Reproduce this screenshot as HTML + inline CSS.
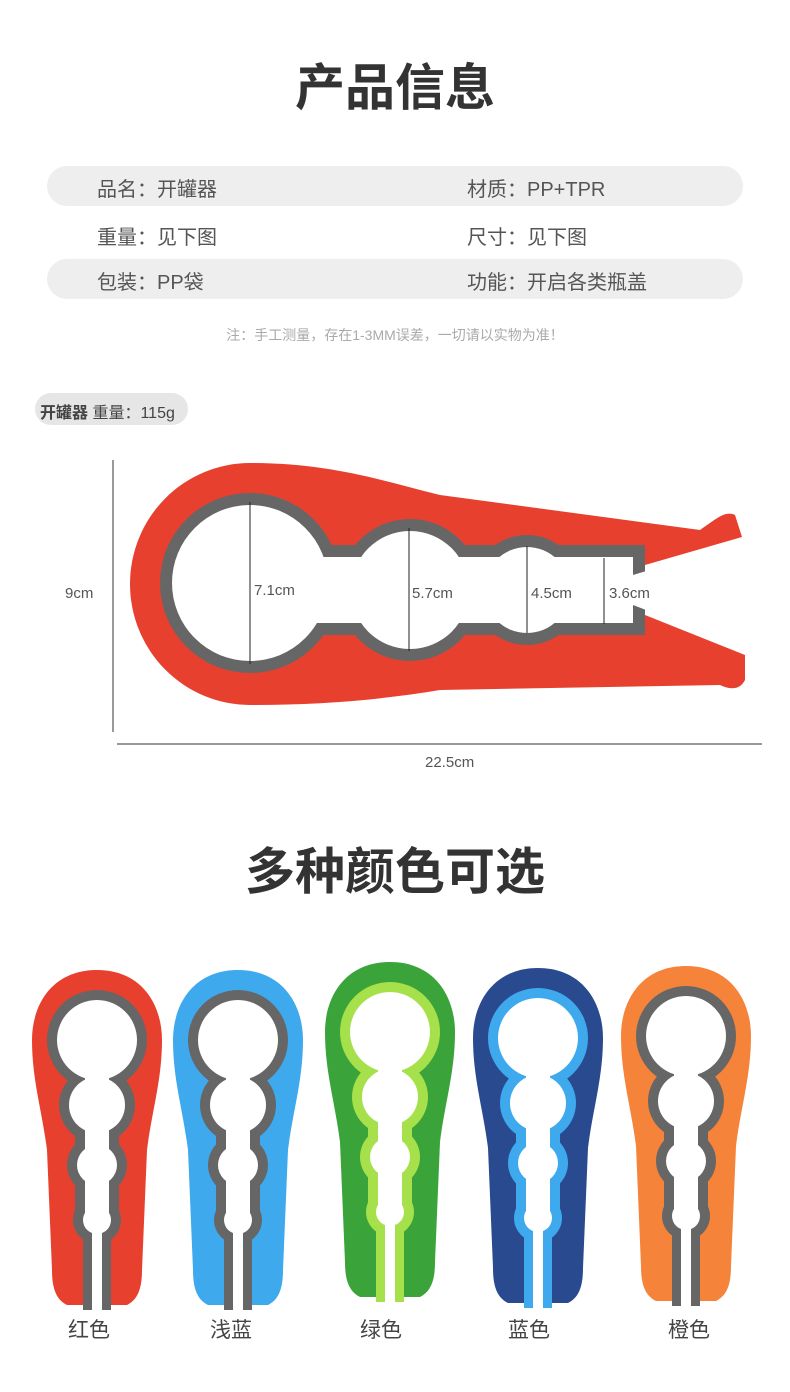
<!DOCTYPE html>
<html><head><meta charset="utf-8"><style>
body{margin:0;width:790px;height:1392px;background:#fff;position:relative;overflow:hidden;font-family:"Liberation Sans","Noto Sans CJK SC",sans-serif;color:#555}
.a{position:absolute;white-space:nowrap}
.pill{position:absolute;left:47px;width:696px;height:40px;background:#eeeeee;border-radius:20px}
.t{font-size:20px;color:#555}
.h{font-size:50px;font-weight:bold;color:#333;left:0;width:790px;text-align:center}
.c{font-size:21px;color:#444}
</style></head><body>
<div class="a h" style="top:48px">产品信息</div>
<div class="pill" style="top:166px"></div>
<div class="pill" style="top:259px"></div>
<div class="a t" style="left:97px;top:173px">品名：开罐器</div>
<div class="a t" style="left:467px;top:173px">材质：PP+TPR</div>
<div class="a t" style="left:97px;top:221px">重量：见下图</div>
<div class="a t" style="left:467px;top:221px">尺寸：见下图</div>
<div class="a t" style="left:97px;top:266px">包装：PP袋</div>
<div class="a t" style="left:467px;top:266px">功能：开启各类瓶盖</div>
<div class="a" style="left:0;width:790px;text-align:center;top:325px;font-size:14px;color:#aaa">注：手工测量，存在1-3MM误差，一切请以实物为准！</div>
<div class="a" style="left:35px;top:393px;width:153px;height:32px;background:#e6e6e6;border-radius:16px"></div>
<div class="a" style="left:40px;top:399px;font-size:16px;color:#444"><b>开罐器</b> 重量：115g</div>
<svg class="a" style="left:0;top:0" width="790" height="1392">
<line x1="113" y1="460" x2="113" y2="732" stroke="#333" stroke-width="1"/>
<line x1="117" y1="744" x2="762" y2="744" stroke="#333" stroke-width="1"/>
<path d="M250 463 C330 463 380 480 440 495 L700 530 C715 520 725 510 735 515 L742 537 L645 565 L645 615 L745 655 L745 680 C740 690 730 690 720 685 L440 690 C380 700 320 705 250 705 A120 121 0 0 1 250 463 Z" fill="#e8402f"/>
<g fill="#666">
<circle cx="250" cy="583" r="90"/><circle cx="410" cy="590" r="71"/><circle cx="527" cy="590" r="55"/><circle cx="605" cy="590" r="44"/><rect x="250" y="545" width="395" height="90"/></g>
<g fill="#fff">
<circle cx="250" cy="583" r="78"/><circle cx="410" cy="590" r="59"/><circle cx="527" cy="590" r="43"/><circle cx="605" cy="590" r="32"/><rect x="250" y="557" width="383" height="66"/><path d="M633 575 L750 540 L750 650 L633 605 Z"/></g>
<g stroke="#222" stroke-width="1">
<line x1="250" y1="502" x2="250" y2="664"/><line x1="409" y1="528" x2="409" y2="651"/><line x1="527" y1="546" x2="527" y2="633"/><line x1="604" y1="558" x2="604" y2="624"/></g>
<defs>
<path id="o" d="M0 0 C45 0 65 35 65 70 C65 110 55 140 50 180 L45 300 C45 320 40 330 30 335 L8 335 L8 290 L-8 290 L-8 335 L-30 335 C-40 330 -45 320 -45 300 L-50 180 C-55 140 -65 110 -65 70 C-65 35 -45 0 0 0 Z"/>
<g id="ring"><circle cx="0" cy="70" r="50"/><circle cx="0" cy="135" r="38"/><circle cx="0" cy="195" r="30"/><circle cx="0" cy="250" r="24"/><rect x="-22" y="70" width="44" height="180"/><rect x="-14" y="240" width="28" height="100"/></g>
<g id="hole"><circle cx="0" cy="70" r="40"/><circle cx="0" cy="135" r="28"/><circle cx="0" cy="195" r="20"/><circle cx="0" cy="250" r="14"/><rect x="-12" y="70" width="24" height="180"/><rect x="-5" y="240" width="10" height="100"/></g>
</defs>
<g transform="translate(97,970)"><use href="#o" fill="#e8402f"/><use href="#ring" fill="#666"/><use href="#hole" fill="#fff"/></g>
<g transform="translate(238,970)"><use href="#o" fill="#3fa9ee"/><use href="#ring" fill="#666"/><use href="#hole" fill="#fff"/></g>
<g transform="translate(390,962)"><use href="#o" fill="#3aa43a"/><use href="#ring" fill="#a6e04a"/><use href="#hole" fill="#fff"/></g>
<g transform="translate(538,968)"><use href="#o" fill="#2a4a8f"/><use href="#ring" fill="#3fa9ee"/><use href="#hole" fill="#fff"/></g>
<g transform="translate(686,966)"><use href="#o" fill="#f5833a"/><use href="#ring" fill="#666"/><use href="#hole" fill="#fff"/></g>
</svg>
<div class="a" style="left:65px;top:585px;font-size:15px;color:#555">9cm</div>
<div class="a" style="left:254px;top:582px;font-size:15px;color:#555">7.1cm</div>
<div class="a" style="left:412px;top:585px;font-size:15px;color:#555">5.7cm</div>
<div class="a" style="left:531px;top:585px;font-size:15px;color:#555">4.5cm</div>
<div class="a" style="left:609px;top:585px;font-size:15px;color:#555">3.6cm</div>
<div class="a" style="left:425px;top:754px;font-size:15px;color:#555">22.5cm</div>
<div class="a h" style="top:832px">多种颜色可选</div>
<div class="a c" style="left:68px;top:1314px">红色</div>
<div class="a c" style="left:210px;top:1314px">浅蓝</div>
<div class="a c" style="left:360px;top:1314px">绿色</div>
<div class="a c" style="left:508px;top:1314px">蓝色</div>
<div class="a c" style="left:668px;top:1314px">橙色</div>
</body></html>
